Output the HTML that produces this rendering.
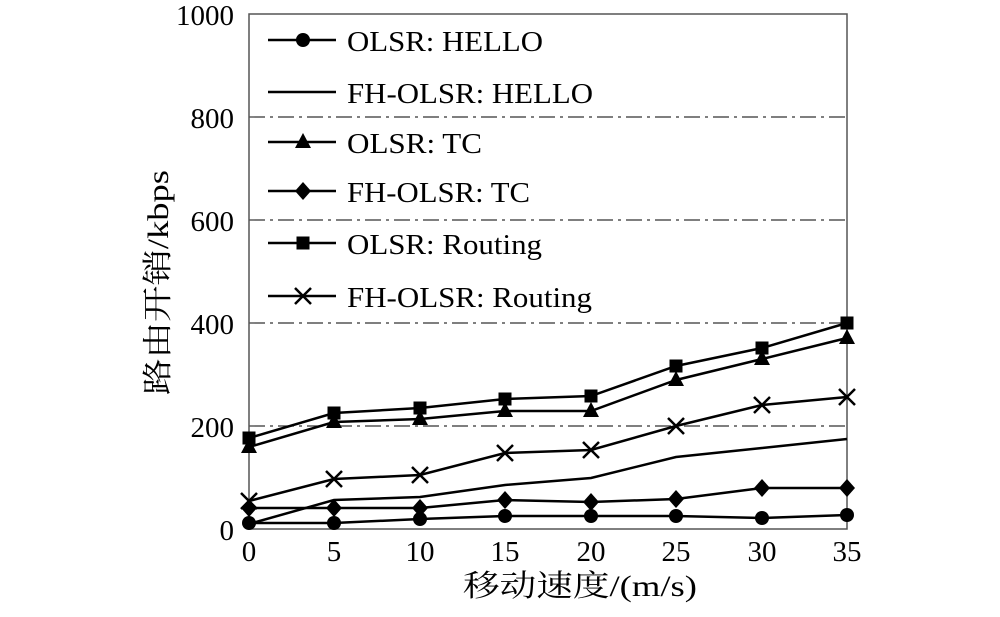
<!DOCTYPE html>
<html><head><meta charset="utf-8"><style>body{margin:0;background:#fff}</style></head><body>
<svg width="1000" height="612" xmlns="http://www.w3.org/2000/svg" font-family="'Liberation Serif','Noto Serif CJK SC',serif">
<rect width="1000" height="612" fill="#fff"/>
<g stroke="#333" stroke-width="1.2" stroke-dasharray="16,5,3,5">
<line x1="249" y1="117" x2="847" y2="117"/>
<line x1="249" y1="220" x2="847" y2="220"/>
<line x1="249" y1="323" x2="847" y2="323"/>
<line x1="249" y1="426" x2="847" y2="426"/>
</g>
<rect x="249" y="14" width="598" height="515" fill="none" stroke="#555" stroke-width="1.5"/>
<g font-size="29" text-anchor="end" fill="#000">
<text x="234" y="25" textLength="58" lengthAdjust="spacingAndGlyphs">1000</text>
<text x="234" y="128">800</text>
<text x="234" y="231">600</text>
<text x="234" y="334">400</text>
<text x="234" y="437">200</text>
<text x="234" y="540">0</text>
</g>
<g font-size="29" text-anchor="middle" fill="#000">
<text x="249" y="561">0</text><text x="334" y="561">5</text><text x="420" y="561">10</text><text x="505" y="561">15</text>
<text x="591" y="561">20</text><text x="676" y="561">25</text><text x="762" y="561">30</text><text x="847" y="561">35</text>
</g>
<text x="463" y="596" font-size="30" textLength="234" lengthAdjust="spacingAndGlyphs">移动速度/(m/s)</text>
<text x="0" y="0" transform="translate(168,395) rotate(-90)" font-size="30" textLength="225" lengthAdjust="spacingAndGlyphs">路由开销/kbps</text>
<defs>
<circle id="c" r="7" fill="#000"/>
<rect id="s" x="-6.5" y="-6.5" width="13" height="13" fill="#000"/>
<polygon id="t" points="0,-9 8,6 -8,6" fill="#000"/>
<polygon id="d" points="0,-9 8,0 0,9 -8,0" fill="#000"/>
<path id="x" d="M-8,-8L8,8M-8,8L8,-8" stroke="#000" stroke-width="2.5"/>
</defs>
<g fill="none" stroke="#000" stroke-width="2.5">
<polyline points="249,438 334,413 420,408 505,399 591,396 676,366 762,348 847,323"/>
<polyline points="249,447 334,422 420,419 505,411 591,411 676,380 762,359 847,338"/>
<polyline points="249,501 334,479 420,475 505,453 591,450 676,426 762,405 847,397"/>
<polyline points="249,524 334,500 420,497 505,485 591,478 676,457 762,448 847,439"/>
<polyline points="249,508 334,508 420,508 505,500 591,502 676,499 762,488 847,488"/>
<polyline points="249,523 334,523 420,519 505,516 591,516 676,516 762,518 847,515"/>
</g>
<g>
<use href="#s" x="249" y="438"/><use href="#s" x="334" y="413"/><use href="#s" x="420" y="408"/><use href="#s" x="505" y="399"/><use href="#s" x="591" y="396"/><use href="#s" x="676" y="366"/><use href="#s" x="762" y="348"/><use href="#s" x="847" y="323"/>
<use href="#t" x="249" y="447"/><use href="#t" x="334" y="422"/><use href="#t" x="420" y="419"/><use href="#t" x="505" y="411"/><use href="#t" x="591" y="411"/><use href="#t" x="676" y="380"/><use href="#t" x="762" y="359"/><use href="#t" x="847" y="338"/>
<use href="#x" x="249" y="501"/><use href="#x" x="334" y="479"/><use href="#x" x="420" y="475"/><use href="#x" x="505" y="453"/><use href="#x" x="591" y="450"/><use href="#x" x="676" y="426"/><use href="#x" x="762" y="405"/><use href="#x" x="847" y="397"/>
<use href="#d" x="249" y="508"/><use href="#d" x="334" y="508"/><use href="#d" x="420" y="508"/><use href="#d" x="505" y="500"/><use href="#d" x="591" y="502"/><use href="#d" x="676" y="499"/><use href="#d" x="762" y="488"/><use href="#d" x="847" y="488"/>
<use href="#c" x="249" y="523"/><use href="#c" x="334" y="523"/><use href="#c" x="420" y="519"/><use href="#c" x="505" y="516"/><use href="#c" x="591" y="516"/><use href="#c" x="676" y="516"/><use href="#c" x="762" y="518"/><use href="#c" x="847" y="515"/>
</g>
<g stroke="#000" stroke-width="2.5">
<line x1="268" y1="40" x2="336" y2="40"/><line x1="268" y1="92" x2="336" y2="92"/>
<line x1="268" y1="142" x2="336" y2="142"/><line x1="268" y1="191" x2="336" y2="191"/>
<line x1="268" y1="243" x2="336" y2="243"/><line x1="268" y1="296" x2="336" y2="296"/>
</g>
<use href="#c" x="303" y="40"/><use href="#t" x="303" y="142"/><use href="#d" x="303" y="191"/><use href="#s" x="303" y="243"/><use href="#x" x="303" y="296"/>
<g font-size="29" fill="#000">
<text x="347" y="51" textLength="196" lengthAdjust="spacingAndGlyphs">OLSR: HELLO</text>
<text x="347" y="103" textLength="246" lengthAdjust="spacingAndGlyphs">FH-OLSR: HELLO</text>
<text x="347" y="153" textLength="135" lengthAdjust="spacingAndGlyphs">OLSR: TC</text>
<text x="347" y="202" textLength="183" lengthAdjust="spacingAndGlyphs">FH-OLSR: TC</text>
<text x="347" y="254" textLength="195" lengthAdjust="spacingAndGlyphs">OLSR: Routing</text>
<text x="347" y="307" textLength="245" lengthAdjust="spacingAndGlyphs">FH-OLSR: Routing</text>
</g>
</svg>
</body></html>
